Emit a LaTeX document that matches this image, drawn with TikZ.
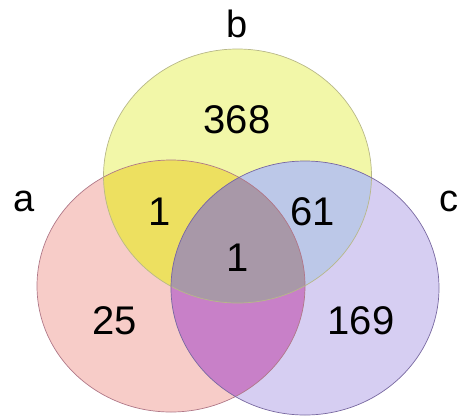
\documentclass[tikz,border=0pt]{standalone}
\usepackage{fontspec}
\setmainfont{Liberation Sans}
\definecolor{conly}{HTML}{D6CEF2}
\definecolor{aonly}{HTML}{F7CCC8}
\definecolor{bonly}{HTML}{F2F7A8}
\definecolor{abcol}{HTML}{EDE060}
\definecolor{bccol}{HTML}{BCC8E8}
\definecolor{accol}{HTML}{C880C8}
\definecolor{abccol}{HTML}{A898A8}
\definecolor{aline}{HTML}{B07888}
\definecolor{bline}{HTML}{B8B888}
\definecolor{cline}{HTML}{7868A0}
\begin{document}
\begin{tikzpicture}[x=1pt,y=-1pt,
  lbl/.style={font=\fontsize{38}{42}\selectfont, inner sep=0pt},
  num/.style={font=\fontsize{40}{44}\selectfont, inner sep=0pt}]
\useasboundingbox (0,0) rectangle (462,418);
\def\ea{(171,286) ellipse [x radius=134, y radius=126]}
\def\eb{(237.5,176) ellipse [x radius=134, y radius=127]}
\def\ec{(305,288) ellipse [x radius=134, y radius=127]}
\fill[aonly] \ea;
\fill[bonly] \eb;
\fill[conly] \ec;
\begin{scope}\clip \ea; \fill[abcol] \eb; \end{scope}
\begin{scope}\clip \eb; \fill[bccol] \ec; \end{scope}
\begin{scope}\clip \ea; \fill[accol] \ec; \end{scope}
\begin{scope}\clip \ea; \clip \eb; \fill[abccol] \ec; \end{scope}
\draw[aline, line width=0.7pt] \ea;
\draw[bline, line width=0.7pt] \eb;
\draw[cline, line width=0.7pt] \ec;
\node[lbl] (la) at (24,201) {a};
\node[lbl] (lb) at (237,24) {b};
\node[lbl] (lc) at (449,201) {c};
\node[num] (nb) at (237,120) {368};
\node[num] (nab) at (160,212) {1};
\node[num] (nbc) at (313,212) {61};
\node[num] (nabc) at (238,258) {1};
\node[num] (na) at (115,321) {25};
\node[num] (nc) at (361,321) {169};
\end{tikzpicture}
\end{document}
